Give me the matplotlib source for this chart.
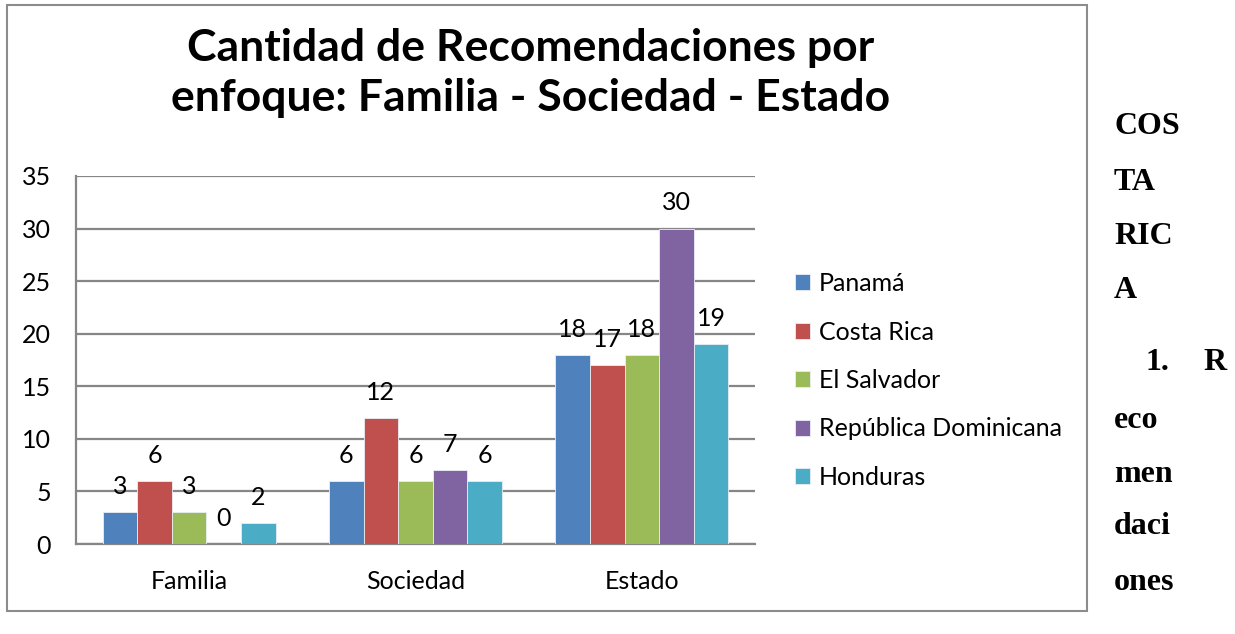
import numpy as np
import matplotlib.pyplot as plt
from matplotlib.patches import Rectangle

plt.rcParams['font.family'] = ['Lato', 'DejaVu Sans']

# ─── datos ───────────────────────────────────────────────
categorias = ['Familia', 'Sociedad', 'Estado']
paises = ['Panamá', 'Costa Rica', 'El Salvador', 'República Dominicana', 'Honduras']
panama = [3, 6, 18]
costa_rica = [6, 12, 17]
el_salvador = [3, 6, 18]
rep_dominicana = [0, 7, 30]
honduras = [2, 6, 19]
colores = ['#4F81BD', '#C0504D', '#9BBB59', '#8064A2', '#4BACC6']
yticks = [0, 5, 10, 15, 20, 25, 30, 35]

series = [panama, costa_rica, el_salvador, rep_dominicana, honduras]

fig = plt.figure(figsize=(12.35, 6.34), dpi=100)
ax = fig.add_axes([76 / 1235, 1 - 544 / 634, (755 - 76) / 1235, (544 - 176) / 634])

# marco del gráfico
fig.patches.append(Rectangle((7 / 1235, 1 - 611 / 634), (1087 - 7) / 1235, (611 - 5) / 634,
                             transform=fig.transFigure, fill=False,
                             edgecolor='#8c8c8c', linewidth=1.5, zorder=0))

fs = 18
x = np.arange(len(categorias))
w = 0.153
for i, (vals, nombre, col) in enumerate(zip(series, paises, colores)):
    pos = x + (i - 2) * w
    bars = ax.bar(pos, vals, width=w, color=col, edgecolor='#e8eef5',
                  linewidth=0.6, label=nombre, zorder=3)
    for b, v in zip(bars, vals):
        ax.annotate(str(v), (b.get_x() + b.get_width() / 2, v),
                    xytext=(0, 18.5), textcoords='offset points',
                    ha='center', va='center', fontsize=fs, color='black', zorder=5)

ax.set_xlim(-0.5, 2.5)
ax.set_ylim(0, 35)
ax.set_yticks(yticks)
ax.set_xticks(x)
ax.set_xticklabels(categorias)
ax.tick_params(axis='both', length=0, labelsize=fs)
ax.tick_params(axis='y', pad=18)
ax.tick_params(axis='x', pad=19)
ax.grid(axis='y', color='#868686', linewidth=1.6, zorder=0)
ax.set_axisbelow(True)
for s in ['top', 'right']:
    ax.spines[s].set_visible(False)
ax.spines['left'].set_color('#868686')
ax.spines['left'].set_linewidth(1.6)
ax.spines['bottom'].set_color('#868686')
ax.spines['bottom'].set_linewidth(1.6)

leg = ax.legend(loc='upper left', bbox_to_anchor=(795 / 1235, 1 - 272 / 634),
                bbox_transform=fig.transFigure, frameon=False, fontsize=fs,
                handlelength=0.6, handleheight=0.6, handletextpad=0.35,
                labelspacing=1.02, borderaxespad=0, borderpad=0)

fig.text(531 / 1235, 1 - 73 / 634,
         'Cantidad de Recomendaciones por\nenfoque: Familia - Sociedad - Estado',
         ha='center', va='center', fontsize=32, fontweight='bold', linespacing=1.3)

# texto del documento a la derecha
serif = dict(family='Liberation Serif', fontweight='bold', fontsize=23, va='center', ha='left')
for txt, yy in [('COS', 127), ('TA', 182), ('RIC', 237), ('A', 290),
                ('eco', 420), ('men', 475), ('daci', 527), ('ones', 582)]:
    fig.text(1114 / 1235, 1 - yy / 634, txt, **serif)
fig.text(1146 / 1235, 1 - 363 / 634, '1.', **serif)
fig.text(1203 / 1235, 1 - 363 / 634, 'R', **serif)

fig.savefig('out.png', dpi=100)
